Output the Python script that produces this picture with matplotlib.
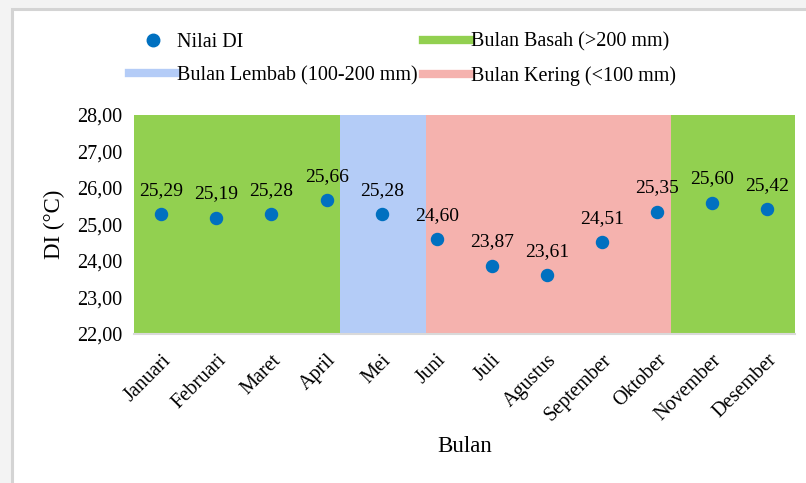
import matplotlib
matplotlib.use("Agg")
import matplotlib.pyplot as plt
from matplotlib.lines import Line2D
from matplotlib.patches import Rectangle

plt.rcParams["font.family"] = ["Liberation Serif", "DejaVu Serif"]

months = ["Januari", "Februari", "Maret", "April", "Mei", "Juni", "Juli",
          "Agustus", "September", "Oktober", "November", "Desember"]
di_values = [25.29, 25.19, 25.28, 25.66, 25.28, 24.60, 23.87,
             23.61, 24.51, 25.35, 25.60, 25.42]

# rainfall classes shaded behind the points (start, end on the month axis)
band_edges = [-0.5, 3.25, 4.8, 9.25, 11.5]
band_classes = ["basah", "lembab", "kering", "basah"]

class_colors = {"basah": "#92D050", "lembab": "#B4CCF7", "kering": "#F5B2AE"}
class_labels = {"basah": "Bulan Basah (>200 mm)",
                "lembab": "Bulan Lembab (100-200 mm)",
                "kering": "Bulan Kering (<100 mm)"}
point_color = "#0070C0"

fig = plt.figure(figsize=(8.06, 4.83), dpi=100, facecolor="#F3F3F3")
# white chart area with a light grey frame
fig.add_artist(Rectangle((0.0149, -0.02), 1.0, 1.0014, transform=fig.transFigure,
                         facecolor="white", edgecolor="#D4D4D4", linewidth=2.2,
                         zorder=0))
ax = fig.add_axes([0.166, 0.3085, 0.820, 0.4535])
ax.patch.set_alpha(0)

for x0, x1, cls in zip(band_edges[:-1], band_edges[1:], band_classes):
    ax.axvspan(x0, x1, color=class_colors[cls], linewidth=0, zorder=1)

xs = list(range(len(months)))
ax.scatter(xs, di_values, s=75, color=point_color, zorder=3)
for x, v in zip(xs, di_values):
    ax.annotate(f"{v:.2f}".replace(".", ","), (x, v), xytext=(0, 11),
                textcoords="offset points", ha="center", va="bottom",
                fontsize=14, zorder=4)

ax.set_xlim(-0.5, 11.5)
ax.set_ylim(22, 28)
ax.set_yticks(range(22, 29))
ax.set_yticklabels([f"{t},00" for t in range(22, 29)], fontsize=14.5)
ax.set_xticks(xs)
ax.set_xticklabels(months, rotation=45, ha="right", va="top",
                   rotation_mode="anchor", fontsize=14.5)
ax.tick_params(axis="y", length=0, pad=8)
ax.tick_params(axis="x", length=0, pad=12)
for side in ["left", "right", "top"]:
    ax.spines[side].set_visible(False)
ax.spines["bottom"].set_color("#D9D9D9")
ax.spines["bottom"].set_linewidth(1.5)

ax.set_ylabel("DI (°C)", fontsize=16.5, labelpad=9)
ax.set_xlabel("Bulan", fontsize=16.5, labelpad=8)

handles = [
    Line2D([], [], marker="o", linestyle="none", markersize=9,
           color=point_color, label="Nilai DI"),
    Line2D([], [], color=class_colors["lembab"], linewidth=6,
           label=class_labels["lembab"]),
    Line2D([], [], color=class_colors["basah"], linewidth=6,
           label=class_labels["basah"]),
    Line2D([], [], color=class_colors["kering"], linewidth=6,
           label=class_labels["kering"]),
]
fig.legend(handles=handles, ncol=2, loc="upper left",
           bbox_to_anchor=(0.138, 0.97), frameon=False, fontsize=14.5,
           handlelength=2.3, handletextpad=0.05, columnspacing=0.3,
           labelspacing=0.7)

fig.savefig("out.png", dpi=100, facecolor=fig.get_facecolor())
